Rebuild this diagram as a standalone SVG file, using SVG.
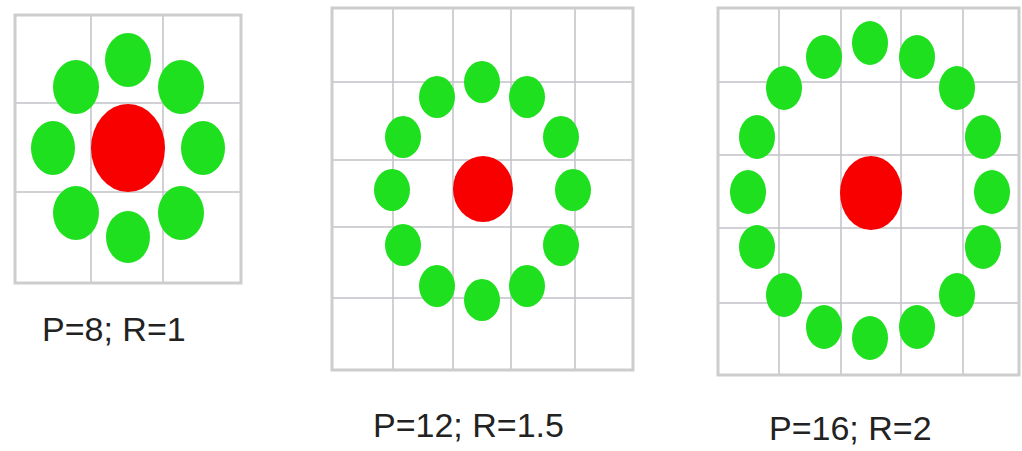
<svg xmlns="http://www.w3.org/2000/svg" width="1022" height="451" viewBox="0 0 1022 451">
<style>
.frame{fill:none;stroke:#cdcdcd;stroke-width:3}
.grid{stroke:#c2c2c8;stroke-width:1.5;fill:none}
.g{fill:#1ee01e}
.r{fill:#f80000}
.lbl{font-family:"Liberation Sans",Arial,sans-serif;font-size:34px;fill:#222}
</style>
<rect width="1022" height="451" fill="#fff"/>
<g id="panel1">
<path class="grid" d="M91 15V283M163 15V283M15 103H241M15 192H241"/>
<rect class="frame" x="15" y="15" width="226" height="268"/>
<ellipse class="r" cx="128" cy="148" rx="37" ry="44"/>
<ellipse class="g" cx="128" cy="60" rx="23" ry="27"/>
<ellipse class="g" cx="76" cy="87" rx="23" ry="27"/>
<ellipse class="g" cx="181" cy="87" rx="23" ry="27"/>
<ellipse class="g" cx="53" cy="148" rx="22" ry="27"/>
<ellipse class="g" cx="203" cy="148" rx="22" ry="27"/>
<ellipse class="g" cx="76" cy="213" rx="23" ry="27"/>
<ellipse class="g" cx="181" cy="213" rx="23" ry="27"/>
<ellipse class="g" cx="128" cy="237" rx="22" ry="26"/>
<text class="lbl" x="42" y="341">P=8; R=1</text>
</g>
<g id="panel2">
<path class="grid" d="M393 8V370M453 8V370M511 8V370M575 8V370M332 82H633M332 160H633M332 227H633M332 298H633"/>
<rect class="frame" x="332" y="8" width="301" height="362"/>
<ellipse class="r" cx="483" cy="189" rx="30" ry="33"/>
<ellipse class="g" cx="482" cy="82" rx="18" ry="21"/>
<ellipse class="g" cx="437" cy="97" rx="18" ry="21"/>
<ellipse class="g" cx="527" cy="97" rx="18" ry="21"/>
<ellipse class="g" cx="403" cy="137" rx="18" ry="21"/>
<ellipse class="g" cx="561" cy="137" rx="18" ry="21"/>
<ellipse class="g" cx="392" cy="190" rx="18" ry="21"/>
<ellipse class="g" cx="573" cy="190" rx="18" ry="21"/>
<ellipse class="g" cx="403" cy="245" rx="18" ry="21"/>
<ellipse class="g" cx="561" cy="245" rx="18" ry="21"/>
<ellipse class="g" cx="437" cy="286" rx="18" ry="21"/>
<ellipse class="g" cx="527" cy="286" rx="18" ry="21"/>
<ellipse class="g" cx="482" cy="300" rx="18" ry="21"/>
<text class="lbl" x="373" y="437">P=12; R=1.5</text>
</g>
<g id="panel3">
<path class="grid" d="M779 8V375M841 8V375M901 8V375M963 8V375M718 82H1019M718 155H1019M718 228H1019M718 303H1019"/>
<rect class="frame" x="718" y="8" width="301" height="367"/>
<ellipse class="r" cx="871" cy="193" rx="31" ry="37"/>
<ellipse class="g" cx="870" cy="43" rx="18" ry="22"/>
<ellipse class="g" cx="824" cy="57" rx="18" ry="22"/>
<ellipse class="g" cx="917" cy="57" rx="18" ry="22"/>
<ellipse class="g" cx="784" cy="88" rx="18" ry="22"/>
<ellipse class="g" cx="957" cy="88" rx="18" ry="22"/>
<ellipse class="g" cx="757" cy="137" rx="18" ry="22"/>
<ellipse class="g" cx="983" cy="137" rx="18" ry="22"/>
<ellipse class="g" cx="748" cy="192" rx="18" ry="22"/>
<ellipse class="g" cx="992" cy="192" rx="18" ry="22"/>
<ellipse class="g" cx="757" cy="247" rx="18" ry="22"/>
<ellipse class="g" cx="983" cy="247" rx="18" ry="22"/>
<ellipse class="g" cx="784" cy="295" rx="18" ry="22"/>
<ellipse class="g" cx="957" cy="295" rx="18" ry="22"/>
<ellipse class="g" cx="824" cy="327" rx="18" ry="22"/>
<ellipse class="g" cx="917" cy="327" rx="18" ry="22"/>
<ellipse class="g" cx="870" cy="338" rx="18" ry="22"/>
<text class="lbl" x="769" y="440">P=16; R=2</text>
</g>
</svg>
